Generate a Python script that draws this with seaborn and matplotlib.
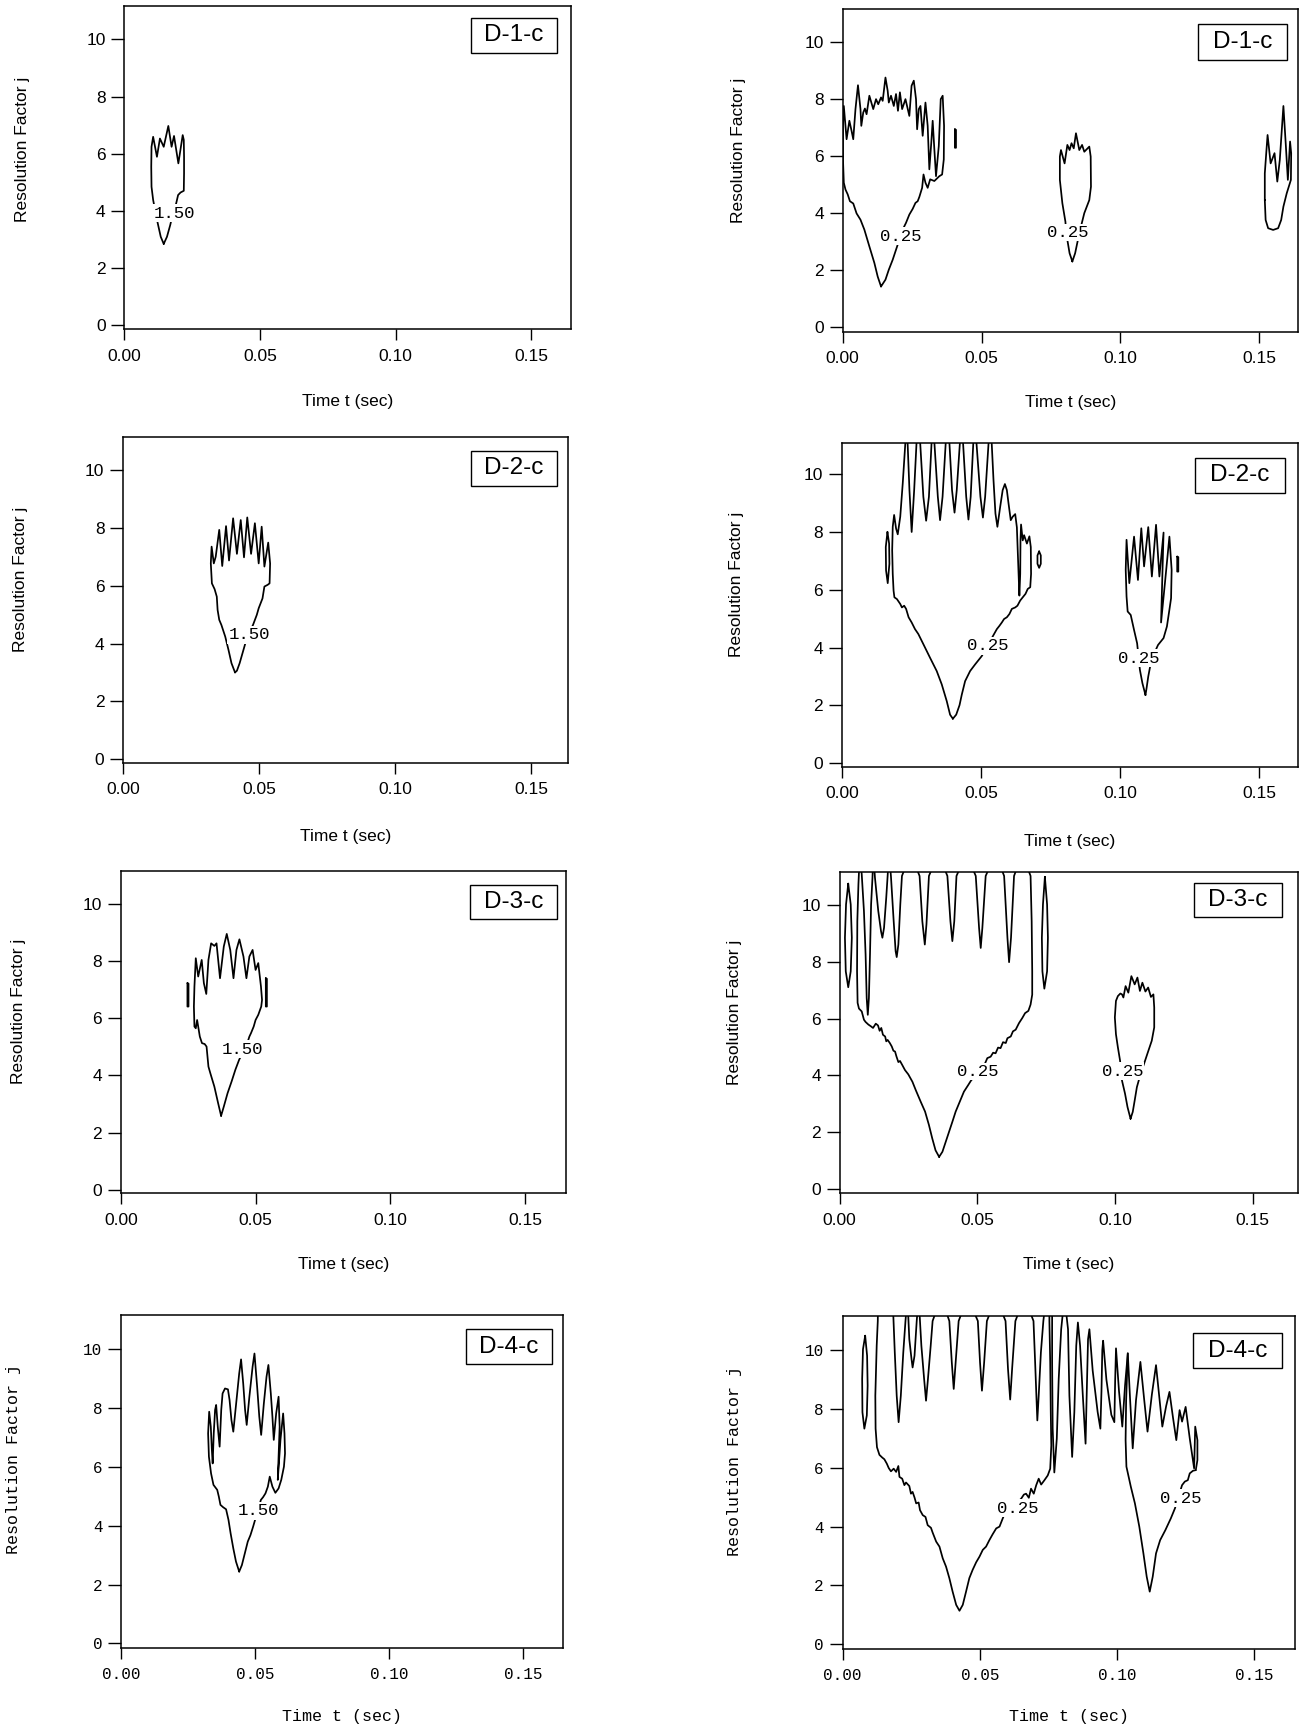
import matplotlib
matplotlib.use("Agg")
import matplotlib.pyplot as plt
import seaborn as sns
import pandas as pd
from matplotlib.patches import Rectangle

W, H, DPI = 1311, 1729, 100

# ---------------- data (t in sec, j resolution factor) ----------------
XTICKS = [0.00, 0.05, 0.10, 0.15]
XTICK_LABELS = ["0.00", "0.05", "0.10", "0.15"]
YTICKS = [0, 2, 4, 6, 8, 10]
X_LABEL = "Time t (sec)"
Y_LABEL = "Resolution Factor j"
PANEL_TAGS = ["D-1-c", "D-1-c", "D-2-c", "D-2-c", "D-3-c", "D-3-c", "D-4-c", "D-4-c"]

# ---- D-1-c, level 1.50 ----
L1_loop = [(0.0145,2.84),(0.0157,3.09),(0.0169,3.50),(0.0179,3.91),(0.0191,4.26),(0.0198,4.55),(0.0207,4.64),
           (0.0219,4.70),(0.0220,5.31),(0.0220,5.89),(0.0219,6.48),(0.0215,6.65),(0.0199,5.66),(0.0183,6.62),
           (0.0174,6.24),(0.0162,6.97),(0.0145,6.24),(0.0131,6.53),(0.0120,5.89),(0.0106,6.59),(0.0100,6.24),
           (0.0099,5.54),(0.0100,4.84),(0.0106,4.38),(0.0113,4.03),(0.0123,3.56),(0.0134,3.09)]
L1_labels = [(0.0186, 3.91, "1.50")]

# ---- D-1-c, level 0.25 ----
R1_main = [(0.0138,1.41),(0.0126,1.76),(0.0114,2.24),(0.0096,2.82),(0.0078,3.41),(0.0064,3.76),(0.0050,3.98),
           (0.0038,4.33),(0.0026,4.41),(0.0018,4.65),(0.0010,4.82),(0.0004,5.06),(0.0001,5.88),(0.0001,7.06),
           (0.0004,7.76),(0.0010,7.06),(0.0014,6.59),(0.0024,7.24),(0.0032,6.88),(0.0038,6.59),(0.0046,7.65),
           (0.0055,8.49),(0.0064,7.65),(0.0067,7.06),(0.0074,7.53),(0.0080,7.67),(0.0086,7.47),(0.0096,8.12),
           (0.0110,7.65),(0.0120,8.00),(0.0128,7.82),(0.0138,8.06),(0.0144,7.94),(0.0154,8.76),(0.0162,8.29),
           (0.0166,7.88),(0.0174,8.12),(0.0184,7.76),(0.0192,8.18),(0.0199,7.59),(0.0206,8.24),(0.0214,7.65),
           (0.0226,8.00),(0.0240,7.41),(0.0248,8.47),(0.0256,8.65),(0.0264,8.00),(0.0268,6.94),(0.0274,7.65),
           (0.0280,7.76),(0.0288,6.71),(0.0298,7.88),(0.0306,7.06),(0.0312,5.53),(0.0319,6.47),(0.0324,7.24),
           (0.0330,6.24),(0.0336,5.29),(0.0346,6.35),(0.0353,8.00),(0.0360,8.12),(0.0365,7.06),(0.0364,5.88),
           (0.0358,5.35),(0.0348,5.29),(0.0330,5.12),(0.0315,5.18),(0.0306,4.88),(0.0298,5.06),(0.0291,5.35),
           (0.0286,4.88),(0.0276,4.56),(0.0270,4.41),(0.0262,4.35),(0.0252,4.14),(0.0240,3.94),(0.0228,3.65),
           (0.0216,3.41),(0.0198,2.88),(0.0180,2.35),(0.0166,2.00),(0.0154,1.65)]
R1_dash = [(0.0404,6.94),(0.0408,6.92),(0.0408,6.29),(0.0404,6.29)]
R1_mid = [(0.0827,2.29),(0.0817,2.58),(0.0805,3.28),(0.0802,3.69),(0.0791,4.34),(0.0782,5.16),(0.0782,5.98),
          (0.0786,6.21),(0.0799,5.74),(0.0809,6.39),(0.0817,6.21),(0.0824,6.45),(0.0832,6.27),(0.0840,6.80),
          (0.0852,6.21),(0.0862,6.39),(0.0870,6.15),(0.0888,6.33),(0.0893,5.98),(0.0894,4.92),(0.0888,4.45),
          (0.0870,3.99),(0.0858,3.52),(0.0847,3.05),(0.0837,2.58)]
R1_right = [(0.1520,4.45),(0.1520,5.39),(0.1526,6.21),(0.1530,6.74),(0.1541,5.74),(0.1555,6.10),(0.1565,5.10),
            (0.1574,5.86),(0.1587,7.76),(0.1596,6.33),(0.1603,5.16),(0.1611,6.51),(0.1615,6.10),(0.1614,5.16),
            (0.1599,4.69),(0.1587,4.22),(0.1579,3.75),(0.1568,3.46),(0.1550,3.40),(0.1532,3.46),(0.1523,3.75)]
R1_labels = [(0.0210, 3.18, "0.25"), (0.0809, 3.31, "0.25")]

# ---- D-2-c, level 1.50 ----
L2_loop = [(0.0411,3.00),(0.0398,3.32),(0.0387,3.78),(0.0375,4.24),(0.0361,4.64),(0.0353,4.82),(0.0347,5.16),
           (0.0344,5.62),(0.0336,5.88),(0.0326,6.08),(0.0322,6.77),(0.0325,7.35),(0.0333,6.77),(0.0340,7.00),
           (0.0353,7.93),(0.0364,6.68),(0.0378,8.06),(0.0389,6.87),(0.0404,8.33),(0.0418,7.10),(0.0432,8.27),
           (0.0444,6.98),(0.0456,8.36),(0.0470,7.10),(0.0484,8.16),(0.0498,6.77),(0.0509,8.04),(0.0519,6.66),
           (0.0533,7.49),(0.0540,6.77),(0.0538,6.08),(0.0531,6.03),(0.0519,5.97),(0.0512,5.56),(0.0505,5.39),
           (0.0498,5.22),(0.0491,4.99),(0.0477,4.64),(0.0456,4.24),(0.0442,3.78),(0.0428,3.32),(0.0418,3.06)]
L2_labels = [(0.0463, 4.30, "1.50")]

# ---- D-2-c, level 0.25 ----
R2_main = [(0.0399,1.54),(0.0389,1.68),(0.0377,2.15),(0.0359,2.73),(0.0341,3.19),(0.0317,3.65),(0.0293,4.12),
           (0.0275,4.47),(0.0263,4.64),(0.0251,4.87),(0.0240,5.05),(0.0231,5.34),(0.0224,5.45),(0.0216,5.39),
           (0.0210,5.51),(0.0198,5.68),(0.0189,5.74),(0.0186,5.97),(0.0183,6.55),(0.0181,7.37),(0.0183,8.18),
           (0.0188,8.59),(0.0195,8.12),(0.0201,7.92),(0.0210,8.53),(0.0219,9.69),(0.0229,11.19),(0.0232,11.8),
           (0.0236,11.19),(0.0243,9.45),(0.0251,8.00),(0.0260,9.45),(0.0269,11.19),(0.0275,11.8),(0.0281,11.19),
           (0.0293,9.22),(0.0303,8.39),(0.0313,9.22),(0.0323,11.19),(0.0327,11.8),(0.0332,11.19),(0.0345,9.22),
           (0.0353,8.41),(0.0362,9.22),(0.0374,11.19),(0.0380,11.8),(0.0386,11.19),(0.0396,9.45),(0.0405,8.67),
           (0.0413,9.45),(0.0425,11.19),(0.0430,11.8),(0.0435,11.19),(0.0447,9.22),(0.0455,8.43),(0.0463,9.22),
           (0.0473,11.19),(0.0478,11.8),(0.0483,11.19),(0.0498,9.22),(0.0507,8.50),(0.0515,9.22),(0.0528,11.19),
           (0.0533,11.8),(0.0538,11.19),(0.0545,9.80),(0.0552,8.64),(0.0559,8.18),(0.0569,8.87),(0.0578,9.45),
           (0.0586,9.66),(0.0593,9.45),(0.0599,8.99),(0.0607,8.41),(0.0614,8.53),(0.0623,8.62),(0.0629,8.16),
           (0.0632,7.37),(0.0636,6.32),(0.0638,5.80),(0.0641,6.55),(0.0642,7.71),(0.0644,8.26),(0.0650,7.71),
           (0.0655,7.89),(0.0665,7.60),(0.0674,7.85),(0.0679,7.48),(0.0680,6.55),(0.0677,6.09),(0.0668,6.03),
           (0.0660,5.86),(0.0650,5.74),(0.0641,5.63),(0.0631,5.45),(0.0623,5.39),(0.0611,5.34),(0.0602,5.16),
           (0.0593,5.05),(0.0583,4.99),(0.0575,4.87),(0.0566,4.75),(0.0557,4.64),(0.0543,4.40),(0.0527,4.12),
           (0.0503,3.71),(0.0479,3.42),(0.0461,3.19),(0.0443,2.84),(0.0431,2.37),(0.0423,2.01),(0.0411,1.68)]
R2_left = [(0.0164,8.00),(0.0170,7.60),(0.0171,6.90),(0.0165,6.23),(0.0159,6.67),(0.0158,7.48)]
R2_ring = [(0.0709,7.33),(0.0715,7.19),(0.0715,6.90),(0.0709,6.76),(0.0703,6.90),(0.0703,7.19)]
R2_second = [(0.1091,2.36),(0.1080,2.77),(0.1071,3.23),(0.1061,4.15),(0.1050,4.61),(0.1038,5.13),(0.1027,5.25),
             (0.1023,5.77),(0.1020,6.69),(0.1023,7.73),(0.1033,6.23),(0.1050,7.84),(0.1064,6.34),(0.1076,8.13),
             (0.1086,6.81),(0.1101,8.17),(0.1114,6.46),(0.1129,8.25),(0.1141,6.46),(0.1156,7.98),(0.1147,4.87),
             (0.1162,6.34),(0.1177,7.84),(0.1185,6.69),(0.1183,5.71),(0.1177,5.31),(0.1168,4.73),(0.1156,4.33),
             (0.1136,4.09),(0.1123,3.81),(0.1110,3.46),(0.1101,3.00),(0.1095,2.60)]
R2_dash = [(0.1205,7.15),(0.1209,7.13),(0.1209,6.63),(0.1205,6.63)]
R2_labels = [(0.0525, 4.06, "0.25"), (0.1068, 3.63, "0.25")]

# ---- D-3-c, level 1.50 ----
L3_loop = [(0.0372,2.59),(0.0361,3.03),(0.0347,3.61),(0.0332,4.08),(0.0325,4.31),(0.0318,5.01),(0.0311,5.10),
           (0.0301,5.13),(0.0293,5.36),(0.0287,5.71),(0.0283,5.94),(0.0278,5.65),(0.0273,5.71),(0.0271,6.41),
           (0.0273,7.11),(0.0278,8.10),(0.0287,7.46),(0.0300,8.04),(0.0308,7.23),(0.0317,6.85),(0.0325,8.04),
           (0.0335,8.62),(0.0347,8.53),(0.0355,8.62),(0.0368,7.40),(0.0382,8.51),(0.0393,8.95),(0.0406,8.39),
           (0.0418,7.40),(0.0429,8.39),(0.0440,8.76),(0.0455,8.16),(0.0466,7.40),(0.0477,8.16),(0.0489,8.39),
           (0.0500,7.69),(0.0510,7.93),(0.0520,7.11),(0.0524,6.64),(0.0521,6.41),(0.0510,6.12),(0.0500,5.94),
           (0.0493,5.71),(0.0483,5.48),(0.0477,5.36),(0.0467,5.07),(0.0439,4.55),(0.0425,4.20),(0.0411,3.79),
           (0.0396,3.38),(0.0382,2.91)]
L3_dash_a = [(0.0247,7.23),(0.0251,7.21),(0.0251,6.41),(0.0247,6.41)]
L3_dash_b = [(0.0538,7.40),(0.0542,7.38),(0.0542,6.41),(0.0538,6.41)]
L3_labels = [(0.0450, 4.92, "1.50")]

# ---- D-3-c, level 0.25 ----
R3_isle_a = [(0.0031,10.74),(0.0040,10.01),(0.0044,8.84),(0.0040,7.66),(0.0031,7.10),(0.0022,7.66),(0.0019,8.84),(0.0023,10.01)]
R3_isle_b = [(0.0745,10.98),(0.0753,10.01),(0.0756,8.84),(0.0753,7.66),(0.0743,7.05),(0.0736,7.66),(0.0734,8.84),(0.0738,10.01)]
R3_main = [(0.0361,1.14),(0.0348,1.37),(0.0336,1.79),(0.0324,2.26),(0.0310,2.73),(0.0294,3.08),(0.0276,3.49),
           (0.0264,3.78),(0.0249,4.04),(0.0237,4.19),(0.0227,4.37),(0.0219,4.51),(0.0213,4.47),(0.0206,4.67),
           (0.0201,4.84),(0.0195,4.87),(0.0189,5.02),(0.0182,5.14),(0.0174,5.25),(0.0169,5.20),(0.0165,5.37),
           (0.0157,5.43),(0.0151,5.67),(0.0145,5.57),(0.0139,5.76),(0.0131,5.82),(0.0121,5.67),(0.0113,5.73),
           (0.0104,5.79),(0.0094,5.88),(0.0088,5.96),(0.0080,6.25),(0.0070,6.35),(0.0065,6.55),(0.0063,7.66),
           (0.0064,9.42),(0.0068,10.72),(0.0073,11.8),(0.0080,11.07),(0.0088,9.78),(0.0094,8.25),(0.0098,6.72),
           (0.0102,6.13),(0.0106,6.72),(0.0110,8.25),(0.0114,10.01),(0.0119,10.95),(0.0122,11.8),(0.0128,10.95),
           (0.0140,9.78),(0.0150,9.07),(0.0155,8.84),(0.0161,9.19),(0.0169,10.25),(0.0174,11.01),(0.0179,11.8),
           (0.0186,11.01),(0.0196,9.42),(0.0203,8.37),(0.0207,8.16),(0.0213,8.60),(0.0220,10.01),(0.0226,11.01),
           (0.0258,11.8),(0.0290,11.01),(0.0300,9.42),(0.0309,8.60),(0.0315,9.31),(0.0324,11.01),(0.0358,11.8),
           (0.0391,11.01),(0.0402,9.42),(0.0409,8.72),(0.0416,9.42),(0.0424,11.01),(0.0460,11.8),(0.0494,11.01),
           (0.0506,9.19),(0.0512,8.48),(0.0518,9.19),(0.0530,11.01),(0.0566,11.8),(0.0597,11.01),(0.0609,8.84),
           (0.0615,7.98),(0.0622,8.84),(0.0633,11.01),(0.0663,11.8),(0.0693,11.01),(0.0697,9.42),(0.0699,7.66),
           (0.0699,6.84),(0.0693,6.49),(0.0685,6.27),(0.0673,6.19),(0.0663,6.02),(0.0651,5.84),(0.0639,5.61),
           (0.0629,5.55),(0.0621,5.37),(0.0609,5.31),(0.0603,5.14),(0.0593,5.17),(0.0584,4.96),(0.0575,4.98),
           (0.0566,4.78),(0.0557,4.80),(0.0548,4.66),(0.0536,4.61),(0.0528,4.43),(0.0476,3.81),(0.0467,3.67),
           (0.0451,3.43),(0.0436,3.08),(0.0421,2.73),(0.0409,2.37),(0.0397,2.02),(0.0385,1.67),(0.0373,1.32)]
R3_second = [(0.1056,2.48),(0.1045,2.89),(0.1036,3.36),(0.1025,3.82),(0.1018,4.52),(0.1010,4.99),(0.1003,5.45),
             (0.0999,6.04),(0.1003,6.62),(0.1010,6.79),(0.1019,6.88),(0.1025,6.85),(0.1030,6.74),(0.1038,7.14),
             (0.1048,6.91),(0.1059,7.49),(0.1071,7.20),(0.1081,7.44),(0.1090,6.97),(0.1099,7.26),(0.1110,6.95),
             (0.1120,7.09),(0.1130,6.76),(0.1139,6.85),(0.1142,6.39),(0.1142,5.69),(0.1133,5.22),(0.1117,4.76),
             (0.1105,4.41),(0.1094,4.11),(0.1079,3.59),(0.1071,3.12),(0.1064,2.72)]
R3_labels = [(0.0500, 4.14, "0.25"), (0.1026, 4.15, "0.25")]

# ---- D-4-c, level 1.50 ----
L4_loop = [(0.0440,2.44),(0.0428,2.78),(0.0418,3.23),(0.0408,3.74),(0.0400,4.20),(0.0391,4.56),(0.0380,4.63),
           (0.0370,4.71),(0.0364,4.99),(0.0358,5.22),(0.0344,5.39),(0.0335,5.78),(0.0327,6.35),(0.0324,7.14),
           (0.0328,7.88),(0.0334,7.37),(0.0338,6.58),(0.0341,6.12),(0.0345,7.14),(0.0350,7.94),(0.0354,8.11),
           (0.0360,7.37),(0.0367,6.69),(0.0373,7.94),(0.0378,8.50),(0.0387,8.67),(0.0398,8.64),(0.0404,8.28),
           (0.0411,7.60),(0.0418,7.20),(0.0430,8.28),(0.0440,9.18),(0.0447,9.66),(0.0455,8.84),(0.0462,7.94),
           (0.0468,7.43),(0.0478,8.39),(0.0490,9.41),(0.0497,9.86),(0.0507,8.73),(0.0515,7.71),(0.0522,7.09),
           (0.0532,8.16),(0.0542,9.07),(0.0549,9.47),(0.0558,8.50),(0.0564,7.71),(0.0569,6.92),(0.0578,7.82),
           (0.0587,8.39),(0.0591,7.37),(0.0587,6.35),(0.0584,5.56),(0.0594,6.92),(0.0604,7.82),(0.0609,7.14),
           (0.0611,6.46),(0.0607,6.01),(0.0597,5.56),(0.0587,5.27),(0.0575,5.12),(0.0564,5.33),(0.0554,5.67),
           (0.0547,5.33),(0.0538,5.10),(0.0529,4.97),(0.0521,4.88),(0.0492,3.97),(0.0482,3.68),(0.0472,3.46),
           (0.0461,3.06),(0.0450,2.66)]
L4_labels = [(0.0511, 4.51, "1.50")]

# ---- D-4-c, level 0.25 ----
R4_isle = [(0.0082,10.49),(0.0089,9.81),(0.0091,8.79),(0.0088,7.78),(0.0079,7.33),(0.0072,7.89),(0.0071,9.02),(0.0074,10.03)]
R4_first_v = [(0.0129,11.8),(0.0128,10.99),(0.0124,10.15),(0.0119,8.45),(0.0120,7.33),(0.0125,6.70),(0.0134,6.44),
              (0.0144,6.35),(0.0152,6.29),(0.0161,6.14),(0.0168,5.99),(0.0176,5.88),(0.0186,5.97),(0.0195,5.86),
              (0.0203,6.06),(0.0207,5.69),(0.0217,5.63),(0.0225,5.41),(0.0231,5.50),(0.0243,5.38),(0.0249,5.12),
              (0.0255,5.18),(0.0262,4.99),(0.0268,4.79),(0.0277,4.82),(0.0282,4.56),(0.0292,4.39),(0.0302,4.33),
              (0.0310,4.05),(0.0322,3.96),(0.0328,3.80),(0.0341,3.49),(0.0353,3.32),(0.0365,2.92),(0.0377,2.64),
              (0.0389,2.25),(0.0401,1.79),(0.0414,1.34),(0.0426,1.14),(0.0438,1.34),(0.0450,1.79),(0.0462,2.25),
              (0.0474,2.53),(0.0487,2.79),(0.0499,2.98),(0.0511,3.21),(0.0523,3.32),(0.0535,3.54),(0.0547,3.74),
              (0.0560,3.94),(0.0572,4.00),(0.0586,4.33),(0.0602,4.56),(0.0620,4.73),(0.0639,4.84),(0.0651,4.95),
              (0.0661,5.09),(0.0669,5.12),(0.0679,4.98),(0.0687,5.29),(0.0697,5.12),(0.0706,5.41),(0.0715,5.63),
              (0.0724,5.43),(0.0736,5.58),(0.0748,5.74),(0.0757,5.97),(0.0761,6.76),(0.0759,7.89),(0.0757,9.58),
              (0.0754,10.99),(0.0754,11.8)]
R4_top = [(0.0182,11.8),(0.0190,9.92),(0.0197,8.45),(0.0204,7.55),(0.0212,8.45),(0.0221,9.92),(0.0229,10.99),
          (0.0236,11.8),(0.0243,10.37),(0.0251,9.70),(0.0255,9.41),(0.0262,9.81),(0.0270,10.99),(0.0277,11.8),
          (0.0287,10.15),(0.0297,9.02),(0.0304,8.28),(0.0311,9.02),(0.0321,10.15),(0.0328,10.99),(0.0359,11.8),
          (0.0389,10.99),(0.0398,9.58),(0.0405,8.68),(0.0412,9.58),(0.0423,10.99),(0.0456,11.8),(0.0493,10.99),
          (0.0501,9.58),(0.0508,8.62),(0.0516,9.58),(0.0526,10.99),(0.0560,11.8),(0.0594,10.99),(0.0603,9.36),
          (0.0611,8.32),(0.0618,9.36),(0.0630,10.99),(0.0663,11.8),(0.0696,10.99),(0.0702,9.58),(0.0707,8.34),
          (0.0710,7.61),(0.0715,8.45),(0.0723,9.92),(0.0732,10.99),(0.0742,11.8)]
R4_fingers = [(0.0764,11.8),(0.0764,9.58),(0.0766,7.33),(0.0772,5.84),(0.0781,6.99),(0.0788,9.02),(0.0797,10.71),
              (0.0809,11.8),(0.0822,10.71),(0.0827,8.45),(0.0837,6.37),(0.0845,7.89),(0.0852,10.15),(0.0858,10.94),
              (0.0866,10.15),(0.0876,8.45),(0.0886,6.82),(0.0890,8.45),(0.0895,10.37),(0.0900,10.71),(0.0912,9.30),
              (0.0930,7.90),(0.0940,7.33),(0.0944,8.60),(0.0947,10.00),(0.0950,10.32),(0.0962,9.00),(0.0980,7.80),
              (0.0991,7.55),(0.0994,9.00),(0.0997,10.06),(0.1008,8.60),(0.1020,7.40),(0.1030,8.80),(0.1040,9.89),
              (0.1048,8.40),(0.1058,6.66),(0.1070,8.30),(0.1086,9.60),(0.1100,8.30),(0.1112,7.23),(0.1128,8.50),
              (0.1143,9.49),(0.1155,8.40),(0.1166,7.40),(0.1180,8.10),(0.1192,8.58),(0.1205,7.70),(0.1217,6.94),
              (0.1229,7.96),(0.1238,7.57),(0.1251,8.07),(0.1266,7.00),(0.1282,5.98),(0.1286,7.40),(0.1294,6.94),
              (0.1294,6.26),(0.1288,5.92)]
R4_second_v = [(0.1040,9.89),(0.1034,8.30),(0.1032,6.94),(0.1035,6.04),(0.1051,5.36),(0.1066,4.79),(0.1082,4.00),
               (0.1097,3.09),(0.1109,2.30),(0.1120,1.79),(0.1131,2.30),(0.1143,3.09),(0.1158,3.54),(0.1177,3.88),
               (0.1197,4.28),(0.1212,4.62),(0.1238,5.41),(0.1248,5.53),(0.1259,5.58),(0.1266,5.81),(0.1278,5.90),
               (0.1288,5.92)]
R4_labels = [(0.0639, 4.62, "0.25"), (0.1232, 4.96, "0.25")]

# ---------------- layout table (pixel frame of each axes, styles) ----------------
PANELS = [
    dict(paths=[(L1_loop, True)], labels=L1_labels,
         frame=(124.4, 6.0, 571.0, 329.3), xmax=0.1647, ylim=(-0.15, 11.17),
         box=(0.776, 0.856, 0.968, 0.962), ylab=(22, 149), xlab=401.7, mono=False),
    dict(paths=[(R1_main, True), (R1_dash, True), (R1_mid, True), (R1_right, True)], labels=R1_labels,
         frame=(842.7, 9.3, 1298.4, 331.7), xmax=0.1641, ylim=(-0.18, 11.16),
         box=(0.780, 0.843, 0.976, 0.954), ylab=(738.5, 150), xlab=403.0, mono=False),
    dict(paths=[(L2_loop, True)], labels=L2_labels,
         frame=(123.2, 437.3, 568.3, 762.7), xmax=0.1636, ylim=(-0.12, 11.13),
         box=(0.782, 0.850, 0.974, 0.959), ylab=(21, 579), xlab=836.7, mono=False),
    dict(paths=[(R2_main, True), (R2_left, True), (R2_ring, True), (R2_second, True), (R2_dash, True)],
         labels=R2_labels,
         frame=(841.8, 442.7, 1298.0, 766.7), xmax=0.1639, ylim=(-0.12, 11.09),
         box=(0.775, 0.846, 0.971, 0.952), ylab=(736.4, 584), xlab=841.7, mono=False),
    dict(paths=[(L3_loop, True), (L3_dash_a, True), (L3_dash_b, True)], labels=L3_labels,
         frame=(120.9, 870.7, 566.4, 1193.3), xmax=0.1654, ylim=(-0.12, 11.16),
         box=(0.784, 0.849, 0.979, 0.956), ylab=(18.4, 1011.7), xlab=1265.0, mono=False),
    dict(paths=[(R3_isle_a, True), (R3_isle_b, True), (R3_main, True), (R3_second, True)], labels=R3_labels,
         frame=(839.7, 871.7, 1298.0, 1193.3), xmax=0.1664, ylim=(-0.14, 11.16),
         box=(0.772, 0.860, 0.966, 0.966), ylab=(734.3, 1012), xlab=1265.0, mono=False),
    dict(paths=[(L4_loop, True)], labels=L4_labels,
         frame=(121.3, 1315.0, 562.6, 1647.7), xmax=0.1647, ylim=(-0.15, 11.17),
         box=(0.780, 0.853, 0.975, 0.957), ylab=(13.4, 1459), xlab=1716.7, mono=True),
    dict(paths=[(R4_isle, True), (R4_first_v, False), (R4_top, False), (R4_fingers, False), (R4_second_v, False)],
         labels=R4_labels,
         frame=(842.7, 1315.7, 1295.0, 1649.0), xmax=0.1650, ylim=(-0.16, 11.17),
         box=(0.775, 0.842, 0.972, 0.947), ylab=(734.3, 1461), xlab=1716.7, mono=True),
]

SANS = ["Liberation Sans", "DejaVu Sans"]
MONO = ["Liberation Mono", "DejaVu Sans Mono"]

sns.set_theme(style="ticks")
plt.rcParams["font.family"] = SANS
plt.rcParams["axes.linewidth"] = 1.1

fig = plt.figure(figsize=(W / DPI, H / DPI), dpi=DPI, facecolor="white")

for tag, p in zip(PANEL_TAGS, PANELS):
    l, t, r, b = p["frame"]
    ax = fig.add_axes([l / W, 1 - b / H, (r - l) / W, (b - t) / H])
    rows = []
    for k, (pts, closed) in enumerate(p["paths"]):
        seq = list(pts) + ([pts[0]] if closed else [])
        for x, y in seq:
            rows.append({"t": x, "j": y, "seg": k})
    df = pd.DataFrame(rows)
    sns.lineplot(data=df, x="t", y="j", units="seg", estimator=None, sort=False,
                 color="black", linewidth=1.25, ax=ax, legend=False)

    fam = MONO if p["mono"] else SANS
    tsize = 11.5 if p["mono"] else 12.5
    ax.set_xlim(0, p["xmax"])
    ax.set_ylim(*p["ylim"])
    ax.set_xticks(XTICKS)
    ax.set_xticklabels(XTICK_LABELS)
    ax.set_yticks(YTICKS)
    ax.set_yticklabels([str(v) for v in YTICKS])
    ax.tick_params(axis="x", direction="out", length=8, width=1.0, pad=6, labelsize=tsize, colors="black")
    ax.tick_params(axis="y", direction="out", length=9.5, width=1.0, pad=4, labelsize=tsize, colors="black")
    for lbl in ax.get_xticklabels() + ax.get_yticklabels():
        lbl.set_fontfamily(fam)
    for s in ax.spines.values():
        s.set_visible(True)
        s.set_color("black")
        s.set_linewidth(1.1)
    ax.set_xlabel("")
    ax.set_ylabel("")
    ax.grid(False)

    # contour level labels
    for (lx, ly, s) in p["labels"]:
        ax.text(lx, ly, s, ha="center", va="center", fontsize=12.5, family=MONO, color="black",
                bbox=dict(boxstyle="square,pad=0.08", fc="white", ec="none"), zorder=4)

    # panel tag box
    x0, y0, x1, y1 = p["box"]
    ax.add_patch(Rectangle((x0, y0), x1 - x0, y1 - y0, transform=ax.transAxes,
                           fc="white", ec="black", lw=1.0, zorder=5))
    ax.text((x0 + x1) / 2, (y0 + y1) / 2, tag, transform=ax.transAxes, ha="center", va="center",
            fontsize=17.5, family=SANS, color="black", zorder=6)

    # axis titles
    lsize = 12 if p["mono"] else 12.5
    fig.text(p["ylab"][0] / W, 1 - p["ylab"][1] / H, Y_LABEL, rotation=90, ha="center", va="center",
             fontsize=lsize, family=fam, color="black")
    fig.text(((l + r) / 2) / W, 1 - p["xlab"] / H, X_LABEL, ha="center", va="center",
             fontsize=lsize, family=fam, color="black")

fig.savefig("out.png", dpi=DPI, facecolor="white")
